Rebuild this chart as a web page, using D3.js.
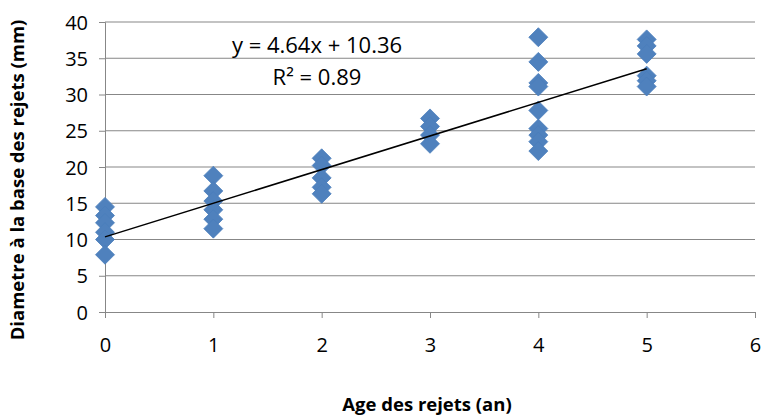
<!DOCTYPE html>
<html>
<head>
<meta charset="utf-8">
<script src="https://cdn.jsdelivr.net/npm/d3@7"></script>
<style>
  body { margin: 0; background: #fff; }
  text { font-family: "Open Sans", sans-serif; fill: #000; }
</style>
</head>
<body>
<script>
// Age (years) of each measured shoot
var ages = [0, 0, 0, 0, 0, 0,
            1, 1, 1, 1, 1, 1,
            2, 2, 2, 2, 2,
            3, 3, 3, 3,
            4, 4, 4, 4, 4, 4, 4, 4, 4,
            5, 5, 5, 5, 5, 5];
// Base diameter (mm)
var diameters = [14.5, 13.3, 12.3, 11, 10, 7.9,
                 18.8, 16.7, 15.3, 14.1, 12.8, 11.5,
                 21.2, 20.2, 18.5, 17.2, 16.3,
                 26.7, 25.6, 24.4, 23.2,
                 37.9, 34.5, 31.6, 31.1, 27.8, 25.3, 24.4, 23.5, 22.2,
                 37.6, 36.7, 35.6, 32.6, 31.9, 31.1];
var xTicks = [0, 1, 2, 3, 4, 5, 6];
var yTicks = [0, 5, 10, 15, 20, 25, 30, 35, 40];
// trend line from the chart
var slope = 4.64, intercept = 10.36, r2 = 0.89;

var width = 764, height = 416;
var svg = d3.select("body").append("svg")
    .attr("width", width)
    .attr("height", height);

var x = d3.scaleLinear().domain([0, 6]).range([105, 755]);
var y = d3.scaleLinear().domain([0, 40]).range([312, 22]);

var gridColor = "#878787";

// horizontal gridlines
svg.selectAll(".grid")
    .data(yTicks.filter(d => d > 0))
    .enter()
    .append("line")
    .attr("class", "grid")
    .attr("x1", x(0))
    .attr("x2", x(6))
    .attr("y1", d => y(d))
    .attr("y2", d => y(d))
    .attr("stroke", gridColor)
    .attr("stroke-width", 1);

// y axis
var yAxis = svg.append("g")
    .attr("transform", "translate(" + x(0) + ",0)")
    .call(d3.axisLeft(y).tickValues(yTicks).tickFormat(d3.format("d")).tickSize(6).tickPadding(11));

// x axis
var xAxis = svg.append("g")
    .attr("transform", "translate(0," + y(0) + ")")
    .call(d3.axisBottom(x).tickValues(xTicks).tickFormat(d3.format("d")).tickSize(6).tickPadding(20));

[yAxis, xAxis].forEach(function(g){
    g.select(".domain").attr("stroke", gridColor);
    g.selectAll(".tick line").attr("stroke", gridColor);
    g.selectAll(".tick text")
        .attr("fill", "#000")
        .style("font-family", "'Open Sans', sans-serif")
        .style("font-size", "20px");
});
yAxis.selectAll(".tick text").attr("dy", "0.36em");

// data points
var pts = ages.map((a, i) => ({ age: a, dia: diameters[i] }));
var r = 9.5;
svg.selectAll(".pt")
    .data(pts)
    .enter()
    .append("path")
    .attr("class", "pt")
    .attr("d", "M0," + (-r) + "L" + r + ",0L0," + r + "L" + (-r) + ",0Z")
    .attr("transform", d => "translate(" + x(d.age) + "," + y(d.dia) + ")")
    .attr("fill", "#4F81BD")
    .attr("stroke", "#4A7EBB")
    .attr("stroke-width", 0.8);

// linear trend line
svg.append("line")
    .attr("x1", x(0))
    .attr("y1", y(intercept))
    .attr("x2", x(5))
    .attr("y2", y(intercept + slope * 5))
    .attr("stroke", "#000")
    .attr("stroke-width", 1.5);

// equation label
svg.append("text")
    .attr("x", 317)
    .attr("y", 53)
    .attr("text-anchor", "middle")
    .style("font-size", "22px")
    .text("y = " + slope.toFixed(2) + "x + " + intercept.toFixed(2));
svg.append("text")
    .attr("x", 317)
    .attr("y", 85)
    .attr("text-anchor", "middle")
    .style("font-size", "22px")
    .text("R² = " + r2.toFixed(2));

// axis titles
svg.append("text")
    .attr("x", 427)
    .attr("y", 411)
    .attr("text-anchor", "middle")
    .style("font-size", "18.5px")
    .style("font-weight", "bold")
    .text("Age des rejets (an)");

svg.append("text")
    .attr("transform", "translate(24," + 180 + ") rotate(-90)")
    .attr("text-anchor", "middle")
    .style("font-size", "18.5px")
    .style("font-weight", "bold")
    .text("Diametre à la base des rejets (mm)");
</script>
</body>
</html>
